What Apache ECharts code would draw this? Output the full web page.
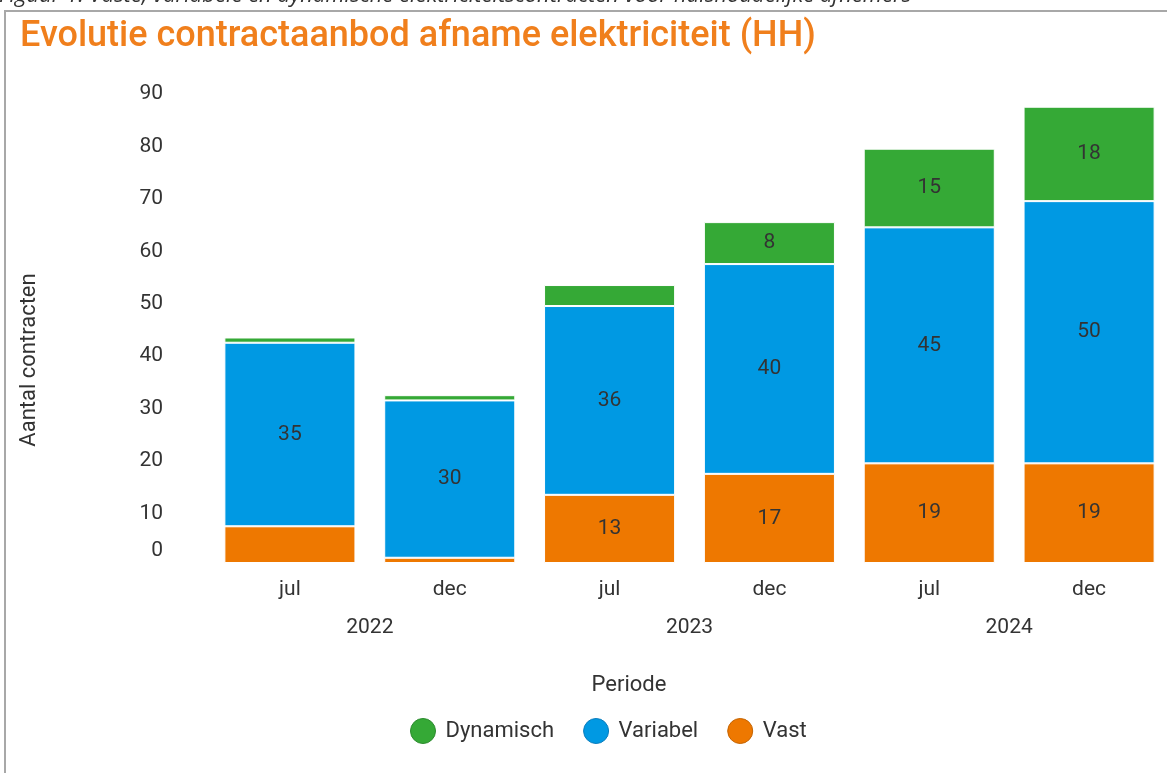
<!DOCTYPE html>
<html>
<head>
<meta charset="utf-8">
<script src="https://cdn.jsdelivr.net/npm/echarts@6/dist/echarts.min.js"></script>
<style>
html,body{margin:0;padding:0;background:#fff;}
#chart{width:1167px;height:773px;}
</style>
</head>
<body>
<div id="chart"></div>
<script>
const categories = ['jul', 'dec', 'jul', 'dec', 'jul', 'dec'];
const years = ['2022', '2023', '2024'];
const vast = [7, 1, 13, 17, 19, 19];
const variabel = [35, 30, 36, 40, 45, 50];
const dynamisch = [1, 1, 4, 8, 15, 18];
const yTicks = [0, 10, 20, 30, 40, 50, 60, 70, 80, 90];

const FONT = 'Roboto';
const TXT = '#333333';
const C_DYN = '#35a936';
const C_VAR = '#0099e3';
const C_VAST = '#ee7800';

const chart = echarts.init(document.getElementById('chart'), null, {renderer: 'canvas'});

function lbl(p) { return p.value >= 8 ? String(p.value) : ''; }

function barSeries(name, data, color) {
  return {
    name: name,
    type: 'bar',
    stack: 'total',
    data: data,
    barWidth: '82%',
    itemStyle: {color: color, borderColor: '#ffffff', borderWidth: 1},
    label: {show: true, position: 'inside', formatter: lbl, color: TXT, fontSize: 21, fontFamily: FONT},
    emphasis: {disabled: true}
  };
}

chart.setOption({
  animation: false,
  textStyle: {fontFamily: FONT},
  grid: {left: 210, right: -2, top: 91, bottom: 210, outerBoundsMode: 'none'},
  xAxis: [
    {
      type: 'category',
      data: categories,
      axisLine: {show: false},
      axisTick: {show: false},
      axisLabel: {color: TXT, fontSize: 21, fontFamily: FONT, margin: 16}
    },
    {
      type: 'category',
      data: years,
      position: 'bottom',
      axisLine: {show: false},
      axisTick: {show: false},
      axisLabel: {color: TXT, fontSize: 21, fontFamily: FONT, margin: 54}
    }
  ],
  yAxis: {
    type: 'value',
    min: yTicks[0],
    max: yTicks[yTicks.length - 1],
    interval: 10,
    axisLine: {show: false},
    axisTick: {show: false},
    splitLine: {show: false},
    axisLabel: {
      color: TXT, fontSize: 21, fontFamily: FONT, margin: 47,
      formatter: function (v) { return v === 0 ? '{z|0}' : '{n|' + v + '}'; },
      rich: {
        z: {color: TXT, fontSize: 21, fontFamily: FONT, padding: [0, 0, 24, 0]},
        n: {color: TXT, fontSize: 21, fontFamily: FONT, padding: [6, 0, 0, 0]}
      }
    }
  },
  legend: {
    left: 405,
    top: 713,
    icon: 'circle',
    itemWidth: 25,
    itemHeight: 25,
    itemGap: 29,
    textStyle: {color: TXT, fontSize: 22, fontFamily: FONT, padding: [0, 0, 0, 5]},
    data: [
      {name: 'Dynamisch', itemStyle: {color: C_DYN, borderColor: '#2b8a2d', borderWidth: 1}},
      {name: 'Variabel', itemStyle: {color: C_VAR, borderColor: '#0a7cbc', borderWidth: 1}},
      {name: 'Vast', itemStyle: {color: C_VAST, borderColor: '#c46300', borderWidth: 1}}
    ],
    selectedMode: false
  },
  graphic: [
    {type: 'rect', shape: {x: 5, y: 11, width: 1300, height: 900}, style: {fill: 'none', stroke: '#a8a8a8', lineWidth: 2}, silent: true},
    {type: 'text', x: -1, y: 7, style: {text: 'Figuur 1: Vaste, variabele en dynamische elektriciteitscontracten voor huishoudelijke afnemers', font: 'italic 22px "Open Sans"', fill: '#333', textVerticalAlign: 'bottom'}},
    {type: 'text', x: 20, y: 37, style: {text: 'Evolutie contractaanbod afname elektriciteit (HH)', font: '500 36px Roboto', fill: '#f07f1c', textVerticalAlign: 'middle'}},
    {type: 'text', x: 629, y: 685, style: {text: 'Periode', font: '22px Roboto', fill: TXT, textAlign: 'center', textVerticalAlign: 'middle'}},
    {type: 'text', x: 29, y: 360, rotation: Math.PI / 2, style: {text: 'Aantal contracten', font: '22px Roboto', fill: TXT, textAlign: 'center', textVerticalAlign: 'middle'}}
  ],
  series: [
    barSeries('Vast', vast, C_VAST),
    barSeries('Variabel', variabel, C_VAR),
    barSeries('Dynamisch', dynamisch, C_DYN)
  ]
});
</script>
</body>
</html>
